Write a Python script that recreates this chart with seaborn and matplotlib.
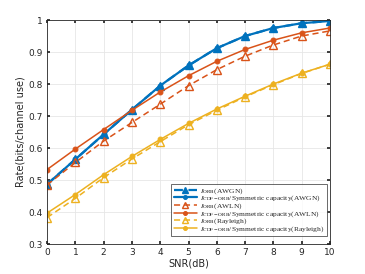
import numpy as np
import pandas as pd
import matplotlib
matplotlib.use("Agg")
import matplotlib.pyplot as plt
import seaborn as sns

snr = [0, 1, 2, 3, 4, 5, 6, 7, 8, 9, 10]
awgn_orb = [0.487, 0.565, 0.643, 0.720, 0.795, 0.858, 0.912, 0.950, 0.975, 0.990, 0.997]
awgn_cdf = [0.487, 0.565, 0.643, 0.720, 0.795, 0.858, 0.912, 0.950, 0.975, 0.990, 0.997]
awln_orb = [0.485, 0.555, 0.622, 0.680, 0.737, 0.795, 0.845, 0.887, 0.922, 0.950, 0.966]
awln_cdf = [0.533, 0.597, 0.658, 0.718, 0.775, 0.826, 0.871, 0.908, 0.937, 0.960, 0.975]
ray_orb = [0.383, 0.443, 0.508, 0.566, 0.620, 0.673, 0.718, 0.760, 0.798, 0.833, 0.862]
ray_cdf = [0.397, 0.455, 0.517, 0.574, 0.627, 0.677, 0.722, 0.762, 0.800, 0.834, 0.862]

labels = [
    r"$I_{\mathrm{ORB}}$(AWGN)",
    r"$I_{\mathrm{CDF-ORB}}$/Symmetric capacity(AWGN)",
    r"$I_{\mathrm{ORB}}$(AWLN)",
    r"$I_{\mathrm{CDF-ORB}}$/Symmetric capacity(AWLN)",
    r"$I_{\mathrm{ORB}}$(Rayleigh)",
    r"$I_{\mathrm{CDF-ORB}}$/Symmetric capacity(Rayleigh)",
]
series = [awgn_orb, awgn_cdf, awln_orb, awln_cdf, ray_orb, ray_cdf]
colors = ["#0072BD", "#0072BD", "#D95319", "#D95319", "#EDB120", "#EDB120"]

sns.set_theme(style="whitegrid")
plt.rcParams["mathtext.fontset"] = "stix"

fig = plt.figure(figsize=(3.65, 2.74), dpi=100)
ax = fig.add_axes([0.129, 0.109, 0.775, 0.818])

for i, (vals, lab, c) in enumerate(zip(series, labels, colors)):
    df = pd.DataFrame({"snr": snr, "rate": vals})
    if i % 2 == 0:
        face = c if i == 0 else "none"
        lw = 1.6 if i == 0 else 1.1
        sns.lineplot(data=df, x="snr", y="rate", ax=ax, color=c, lw=lw,
                     linestyle=(0, (4, 2.5)), marker="^", markersize=5.5,
                     markerfacecolor=face, markeredgecolor=c, markeredgewidth=1.0,
                     label=lab)
    else:
        lw = 1.6 if i == 1 else 1.1
        sns.lineplot(data=df, x="snr", y="rate", ax=ax, color=c, lw=lw,
                     linestyle="-", marker="o", markersize=3.5,
                     markerfacecolor=c, markeredgecolor=c, label=lab)

ax.set_xlim(0, 10)
ax.set_ylim(0.3, 1.0)
ax.set_xticks(range(0, 11))
ax.set_yticks(np.arange(0.3, 1.01, 0.1))
ax.set_yticklabels(["0.3", "0.4", "0.5", "0.6", "0.7", "0.8", "0.9", "1"])
ax.tick_params(labelsize=6.5, colors="#262626", direction="in", length=2.5,
               top=True, right=True, bottom=True, left=True, pad=3)
ax.grid(True, color="#e6e6e6", lw=0.6)
for s in ax.spines.values():
    s.set_color("#262626")
    s.set_linewidth(0.6)
ax.set_facecolor("white")
ax.set_xlabel("SNR(dB)", fontsize=7, labelpad=1, color="#262626")
ax.set_ylabel("Rate(bits/channel use)", fontsize=7, labelpad=2, color="#262626")

leg = ax.legend(loc="lower right", bbox_to_anchor=(0.988, 0.036),
                prop={"family": "Liberation Serif", "size": 5.4},
                frameon=True, fancybox=False, edgecolor="#262626",
                handlelength=3.1, handletextpad=0.4, labelspacing=-0.28,
                borderpad=0.3, borderaxespad=0.0, markerscale=0.8)
leg.get_frame().set_linewidth(0.6)

fig.savefig("out.png", dpi=100)
